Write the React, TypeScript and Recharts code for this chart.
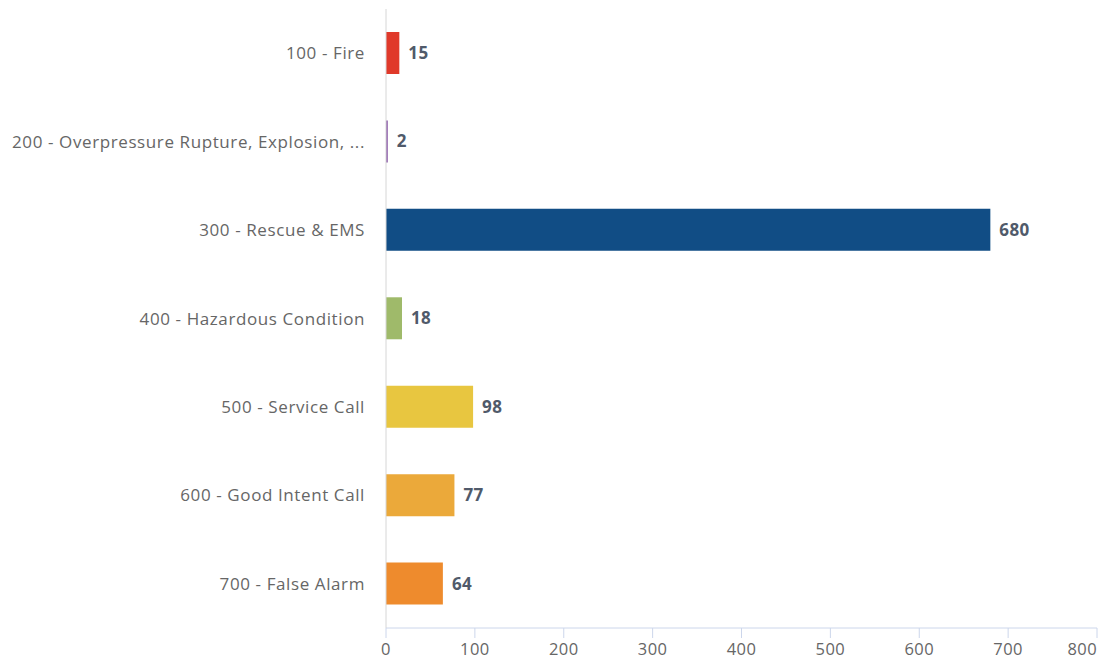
import React from 'react';
import { BarChart, Bar, XAxis, YAxis, Cell, LabelList } from 'recharts';

const categories = [
  '100 - Fire',
  '200 - Overpressure Rupture, Explosion, ...',
  '300 - Rescue & EMS',
  '400 - Hazardous Condition',
  '500 - Service Call',
  '600 - Good Intent Call',
  '700 - False Alarm',
];
const counts = [15, 2, 680, 18, 98, 77, 64];
const barColors = ['#e0392a', '#8a5aa8', '#114d85', '#9fba6a', '#e8c640', '#eba93a', '#ee8b2d'];
const xTicks = [0, 100, 200, 300, 400, 500, 600, 700, 800];

const data = categories.map((name, i) => ({ name, value: counts[i] }));

const FONT = '"Open Sans", "Noto Sans", sans-serif';

const XTick = ({ x, y, payload }: any) => {
  const last = payload.value === xTicks[xTicks.length - 1];
  return (
    <text
      x={x}
      y={y}
      dy={15}
      textAnchor={last ? 'end' : 'middle'}
      fill="#666666"
      fontSize={16.5}
      letterSpacing={0.4}
      fontFamily={FONT}
    >
      {payload.value}
    </text>
  );
};

export default function App() {
  return (
    <div style={{ width: 1101, height: 660, background: '#fff' }}>
      <style>{`body{margin:0;}`}</style>
      <BarChart
        width={1101}
        height={660}
        data={data}
        layout="vertical"
        margin={{ top: 9, right: 4, left: 0, bottom: 0 }}
      >
        <XAxis
          type="number"
          domain={[0, 800]}
          ticks={xTicks}
          height={32}
          axisLine={{ stroke: '#ccd6eb' }}
          tickLine={{ stroke: '#ccd6eb' }}
          tickSize={10}
          tick={<XTick />}
          interval={0}
        />
        <YAxis
          type="category"
          dataKey="name"
          width={386}
          axisLine={{ stroke: '#d6d6d6' }}
          tickLine={false}
          tickSize={0}
          tickMargin={21}
          interval={0}
          tick={{ fill: '#666666', fontSize: 17, letterSpacing: 0.6, fontFamily: FONT }}
        />
        <Bar dataKey="value" barSize={42} isAnimationActive={false}>
          {data.map((d, i) => (
            <Cell key={d.name} fill={barColors[i]} />
          ))}
          <LabelList
            dataKey="value"
            position="right"
            offset={9}
            fill="#505a6a"
            fontSize={17}
            letterSpacing={0.4}
            fontWeight="bold"
            fontFamily={FONT}
          />
        </Bar>
      </BarChart>
    </div>
  );
}
